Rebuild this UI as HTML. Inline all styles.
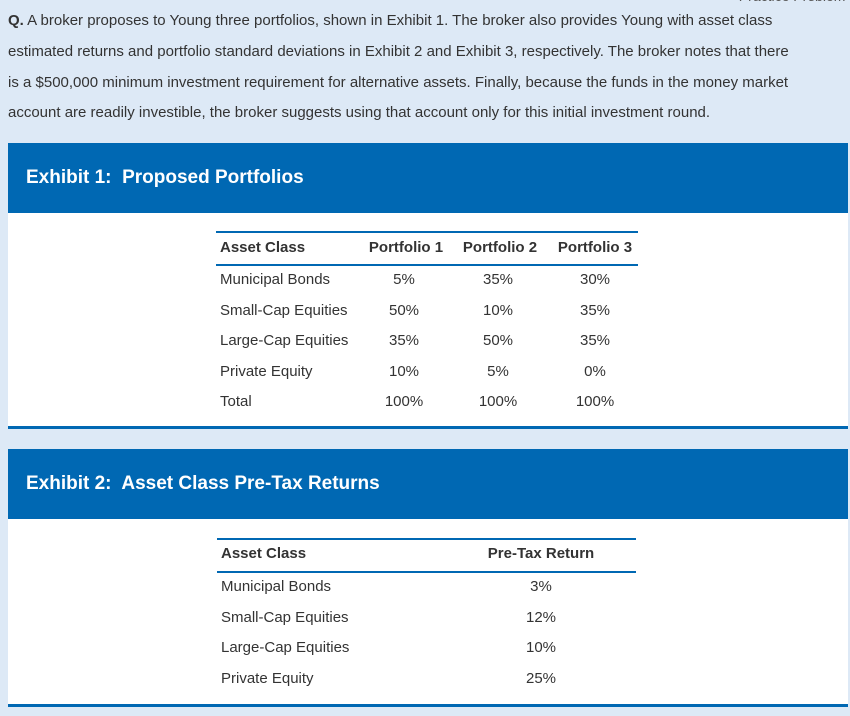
<!DOCTYPE html>
<html><head><meta charset="utf-8"><style>
body{margin:0;width:850px;height:716px;background:#dde9f6;font-family:"Liberation Sans",Arial,sans-serif;color:#333;position:relative;overflow:hidden}
.a{position:absolute;white-space:nowrap}
.q{left:8px;font-size:15px;line-height:20px}
.band{position:absolute;left:8px;width:840px;background:#0068b3}
.band h2{position:absolute;left:18px;margin:0;color:#fff;font-size:19px;font-weight:bold}
.panel{position:absolute;left:8px;width:840px;background:#fff;border-bottom:3px solid #0068b3}
.ln{position:absolute;height:2px;background:#0068b3}
.t{position:absolute;font-size:15px;line-height:18px;white-space:nowrap}
.c{transform:translateX(-50%)}
.b{font-weight:bold}
</style></head><body>
<div class="a" style="right:4px;top:-12px;font-size:14px;font-style:italic;color:#555">Practice Problem</div>
<div class="a q" style="top:11px"><b>Q.</b> A broker proposes to Young three portfolios, shown in Exhibit 1. The broker also provides Young with asset class</div>
<div class="a q" style="top:42px">estimated returns and portfolio standard deviations in Exhibit 2 and Exhibit 3, respectively. The broker notes that there</div>
<div class="a q" style="top:73px">is a $500,000 minimum investment requirement for alternative assets. Finally, because the funds in the money market</div>
<div class="a q" style="top:103px">account are readily investible, the broker suggests using that account only for this initial investment round.</div>

<div class="band" style="top:143px;height:70px"><h2 style="top:24px">Exhibit 1:&nbsp; Proposed Portfolios</h2></div>
<div class="panel" style="top:213px;height:213px"></div>
<div class="ln" style="top:231px;left:216px;width:422px"></div>
<div class="ln" style="top:264px;left:216px;width:422px"></div>
<div id="t1"></div>

<div class="band" style="top:449px;height:70px"><h2 style="top:24px">Exhibit 2:&nbsp; Asset Class Pre-Tax Returns</h2></div>
<div class="panel" style="top:519px;height:185px"></div>
<div class="ln" style="top:538px;left:217px;width:419px"></div>
<div class="ln" style="top:571px;left:217px;width:419px"></div>
<div id="t2"></div>

<script>
const assets1=["Municipal Bonds","Small-Cap Equities","Large-Cap Equities","Private Equity","Total"];
const portfolio1=["5%","50%","35%","10%","100%"];
const portfolio2=["35%","10%","50%","5%","100%"];
const portfolio3=["30%","35%","35%","0%","100%"];
const headers1=["Asset Class","Portfolio 1","Portfolio 2","Portfolio 3"];
const assets2=["Municipal Bonds","Small-Cap Equities","Large-Cap Equities","Private Equity"];
const returns2=["3%","12%","10%","25%"];
function cell(parent,txt,x,y,center,bold,name){
  const d=document.createElement('div');
  d.className='t'+(center?' c':'')+(bold?' b':'');
  d.style.left=x+'px';d.style.top=(y-9)+'px';d.textContent=txt;
  
  
  parent.appendChild(d);
}
const t1=document.getElementById('t1');
cell(t1,headers1[0],220,248,false,true,'header-asset-class');
cell(t1,headers1[1],406,248,true,true,'header-portfolio-1');
cell(t1,headers1[2],500,248,true,true,'header-portfolio-2');
cell(t1,headers1[3],595,248,true,true,'header-portfolio-3');
assets1.forEach((a,i)=>{
  const y=280+i*30.5;
  cell(t1,a,220,y,false,false,'asset-name');
  cell(t1,portfolio1[i],404,y,true,false,'portfolio-1-value');
  cell(t1,portfolio2[i],498,y,true,false,'portfolio-2-value');
  cell(t1,portfolio3[i],595,y,true,false,'portfolio-3-value');
});
const t2=document.getElementById('t2');
cell(t2,"Asset Class",221,554,false,true,'header-asset-class');
cell(t2,"Pre-Tax Return",541,554,true,true,'header-pre-tax-return');
assets2.forEach((a,i)=>{
  const y=587+i*30.5;
  cell(t2,a,221,y,false,false,'asset-name');
  cell(t2,returns2[i],541,y,true,false,'pre-tax-return-value');
});
</script>
</body></html>
